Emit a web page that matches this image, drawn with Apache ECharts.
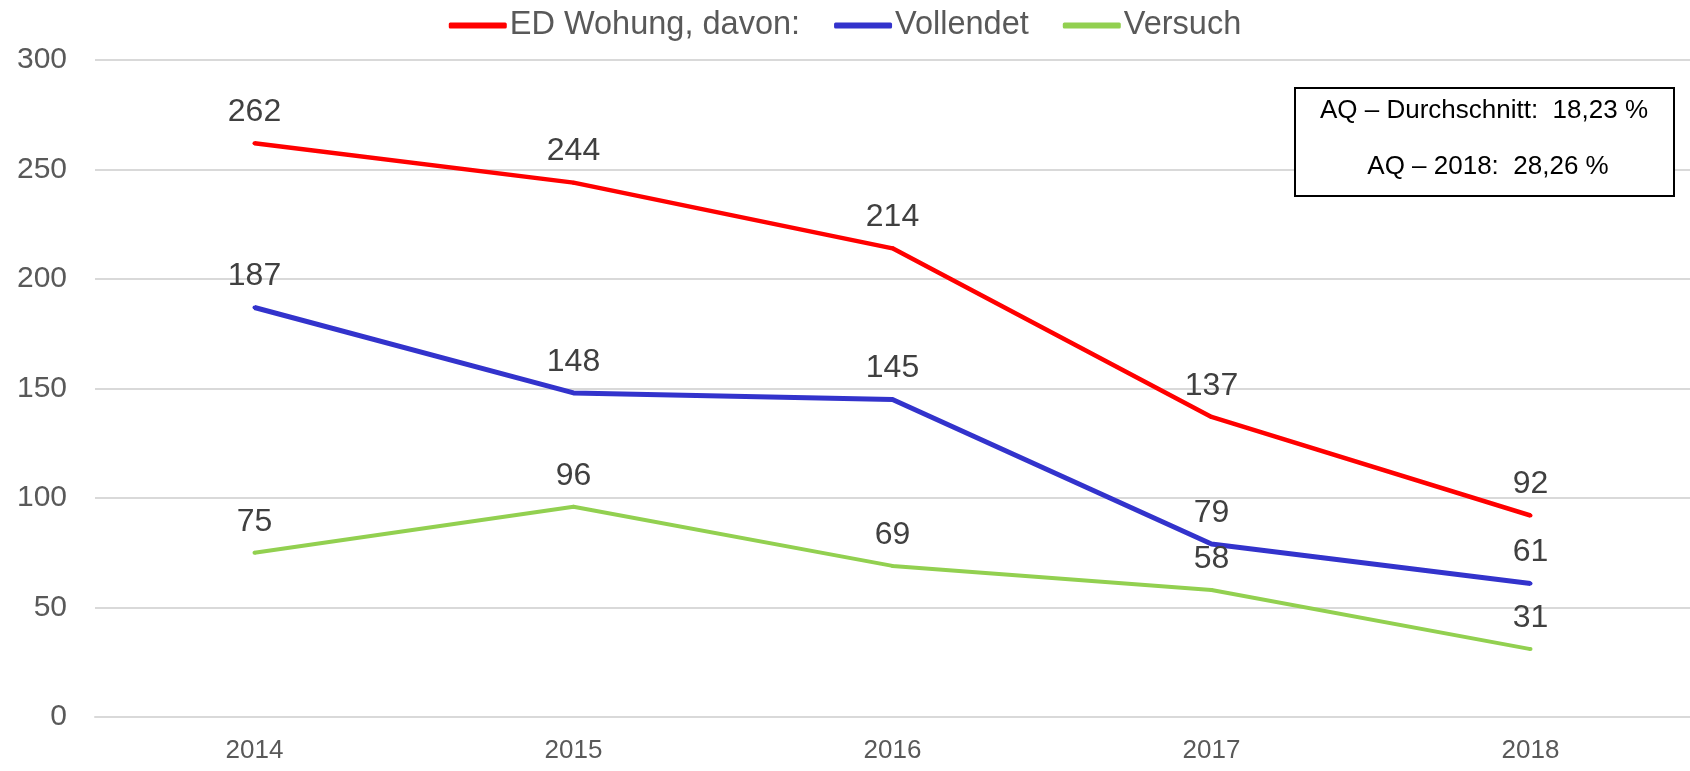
<!DOCTYPE html>
<html>
<head>
<meta charset="utf-8">
<script src="https://cdn.jsdelivr.net/npm/echarts@6/dist/echarts.min.js"></script>
<style>
  html, body { margin: 0; padding: 0; background: #fff; }
  #chart { width: 1690px; height: 771px; }
</style>
</head>
<body>
<div id="chart"></div>
<script>
// Jahre und Fallzahlen
const years = ['2014', '2015', '2016', '2017', '2018'];
const edWohnung = [262, 244, 214, 137, 92];
const vollendet = [187, 148, 145, 79, 61];
const versuch = [75, 96, 69, 58, 31];
const seriesNames = ['ED Wohung, davon:', 'Vollendet', 'Versuch'];
const infoLines = ['AQ \u2013 Durchschnitt:  18,23 %', 'AQ \u2013 2018:  28,26 %'];

const FONT = '"Liberation Sans", Arial, sans-serif';

function lineSeries(name, data, color, width) {
  return {
    name: name,
    type: 'line',
    data: data,
    symbol: 'circle',
    symbolSize: 4,
    showSymbol: true,
    itemStyle: { color: color },
    lineStyle: { color: color, width: width },
    label: {
      show: true,
      position: 'top',
      distance: 13,
      color: '#404040',
      fontSize: 32,
      fontFamily: FONT
    },
    emphasis: { disabled: true },
    animation: false
  };
}

const chart = echarts.init(document.getElementById('chart'));
chart.setOption({
  backgroundColor: '#ffffff',
  legend: {
    top: 4,
    left: 'center',
    itemWidth: 58,
    itemHeight: 6,
    itemGap: 34,
    icon: 'roundRect',
    textStyle: { color: '#595959', fontSize: 32.5, fontFamily: FONT, padding: [0, 0, 0, -2] },
    data: seriesNames
  },
  grid: { left: 95, right: 0, top: 60, bottom: 54, containLabel: false },
  xAxis: {
    type: 'category',
    data: years,
    boundaryGap: true,
    axisLine: { show: true, lineStyle: { color: '#d9d9d9', width: 2 } },
    axisTick: { show: false },
    axisLabel: { color: '#595959', fontSize: 26, fontFamily: FONT, margin: 21 }
  },
  yAxis: {
    type: 'value',
    min: 0,
    max: 300,
    interval: 50,
    axisLine: { show: false },
    axisTick: { show: false },
    axisLabel: { color: '#595959', fontSize: 30, fontFamily: FONT, margin: 28 },
    splitLine: { lineStyle: { color: '#d9d9d9', width: 2 } }
  },
  series: [
    lineSeries(seriesNames[0], edWohnung, '#ff0000', 4.5),
    lineSeries(seriesNames[1], vollendet, '#3333cc', 5),
    lineSeries(seriesNames[2], versuch, '#92d050', 4)
  ],
  graphic: [
    {
      type: 'rect',
      left: 1294,
      top: 87,
      shape: { width: 379, height: 108 },
      style: { fill: '#ffffff', stroke: '#000000', lineWidth: 2 },
      z: 10
    },
    {
      type: 'text',
      x: 1484,
      y: 111,
      style: {
        text: infoLines[0],
        fill: '#000000',
        font: '26px ' + FONT,
        textAlign: 'center',
        textVerticalAlign: 'middle'
      },
      z: 11
    },
    {
      type: 'text',
      x: 1488,
      y: 167,
      style: {
        text: infoLines[1],
        fill: '#000000',
        font: '26px ' + FONT,
        textAlign: 'center',
        textVerticalAlign: 'middle'
      },
      z: 11
    }
  ]
});
</script>
</body>
</html>
